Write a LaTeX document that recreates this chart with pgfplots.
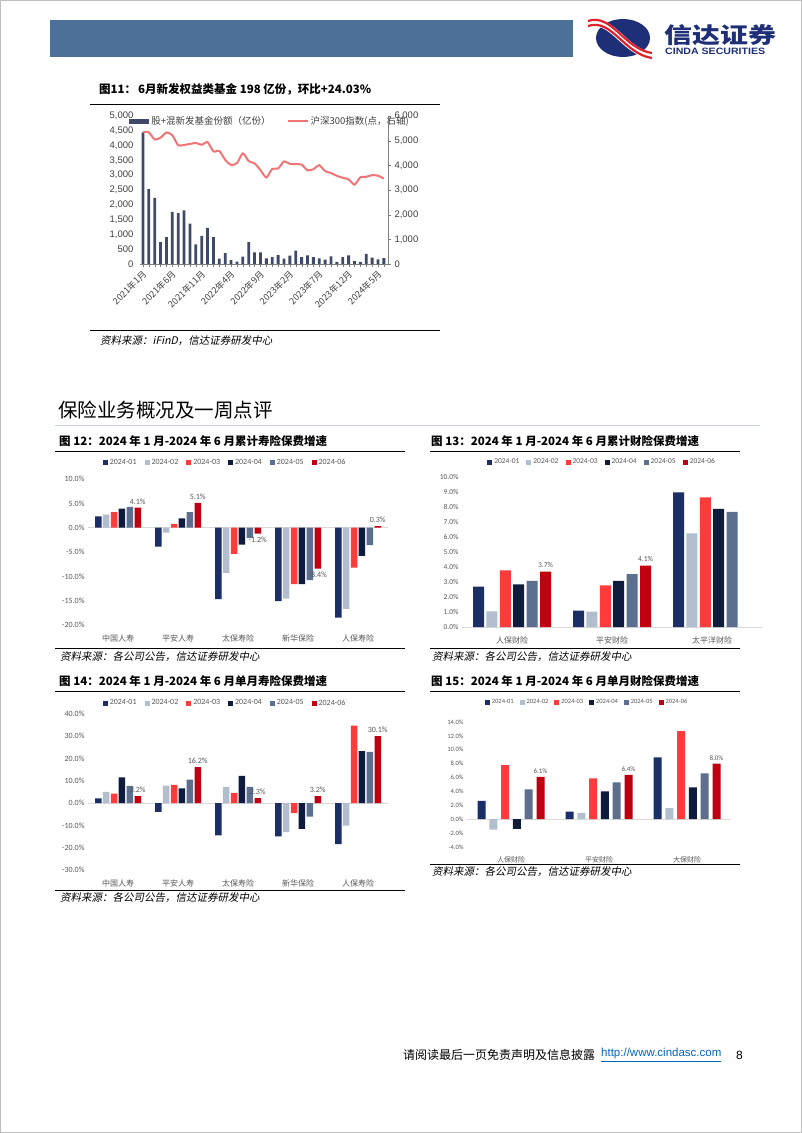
\documentclass[border=0pt]{standalone}
\usepackage{fontspec}
\usepackage{pgfplots}
\pgfplotsset{compat=1.18}
\setmainfont{Carlito}
\newfontfamily\cjk{Noto Sans CJK SC}
\newfontfamily\cjkit{Noto Sans CJK SC}[FakeSlant=0.2]
\newfontfamily\arial{Liberation Sans}
\newcommand\fs[1]{\fontsize{#1bp}{#1bp}\selectfont}

\definecolor{hdr}{HTML}{4C7098}
\definecolor{logonavy}{HTML}{1E2F78}
\definecolor{logored}{HTML}{E0202A}
\definecolor{c1}{HTML}{1B2F66}
\definecolor{c2}{HTML}{B2BDCE}
\definecolor{c3}{HTML}{FF3B3B}
\definecolor{c4}{HTML}{0F1B3D}
\definecolor{c5}{HTML}{5C6F8E}
\definecolor{c6}{HTML}{C00010}
\definecolor{topbar}{HTML}{3F4A68}
\definecolor{topline}{HTML}{F07575}
\definecolor{tickgray}{HTML}{595959}
\definecolor{zerogray}{HTML}{D9D9D9}

\pgfplotsset{
  barchart/.style={
    scale only axis, anchor=south west, ybar, clip=false,
    axis line style={draw=none}, major tick style={draw=none},
    tick label style={text=tickgray},
    /pgf/number format/assume math mode=true,
    yticklabel={\pgfmathprintnumber[fixed,fixed zerofill,precision=1]{\tick}\%},
    xticklabel style={font=\cjk\fs{8}, yshift=-2bp},
    legend columns=6,
    legend style={anchor=center, draw=none, fill=none, text=tickgray},
    extra y ticks={0}, extra y tick labels={},
    extra y tick style={grid=major, major grid style={draw=zerogray, line width=0.8bp}},
  },
  sq/.style={fill=#1, draw=none,
    legend image code/.code={\fill[#1] (0bp,-2.5bp) rectangle (5bp,2.5bp);}},
  lbl/.style={nodes near coords={\pgfmathprintnumber[fixed,fixed zerofill,precision=1]{\pgfplotspointmeta}\%},
    nodes near coords style={font=\fs{#1}, text=tickgray}},
}

\begin{document}
\begin{tikzpicture}
\path[use as bounding box, fill=white] (0,0) rectangle (802bp,-1133bp);
\draw[gray!50, line width=1bp] (0.5bp,-0.5bp) rectangle (801.5bp,-1132.5bp);

% header
\fill[hdr] (50bp,-20bp) rectangle (573bp,-57bp);
\fill[logonavy] (623bp,-38bp) ellipse (27bp and 19bp);
\draw[white, line width=7bp] (588bp,-24bp) .. controls (612bp,-16bp) and (624bp,-52bp) .. (652bp,-56bp);
\draw[logored, line width=2.2bp] (588bp,-21bp) .. controls (612bp,-13bp) and (624bp,-49bp) .. (652bp,-53bp);
\draw[logored, line width=2.2bp] (588bp,-26bp) .. controls (612bp,-18bp) and (624bp,-54bp) .. (652bp,-58bp);
\node[anchor=west, text=logonavy, inner sep=0, xscale=1.27] at (664bp,-35bp) {\cjk\bfseries\fs{22}信达证券};
\node[anchor=west, text=logonavy, inner sep=0, xscale=1.15] at (665bp,-51bp) {\arial\bfseries\fs{9.2}CINDA SECURITIES};

% figure 11
\node[anchor=west, inner sep=0] at (99bp,-89bp) {\cjk\bfseries\fs{11.5}图11：\,6月新发权益类基金 198 亿份，环比+24.03\%};
\draw[line width=1bp] (90bp,-104bp) -- (440bp,-104bp);
\draw[line width=1bp] (90bp,-330bp) -- (440bp,-330bp);
\node[anchor=west, inner sep=0] at (100bp,-341bp) {\cjkit\fs{10.5}资料来源：iFinD，信达证券研发中心};

\begin{axis}[
  at={(140bp,-264bp)}, anchor=south west, scale only axis,
  width=248bp, height=148bp,
  xmin=0.5, xmax=42.7, ymin=0, ymax=5000,
  ybar, bar width=2.8bp,
  axis x line*=bottom, axis y line*=left,
  y axis line style={draw=none}, ytick style={draw=none},
  x axis line style={draw=gray}, xtick style={draw=gray},
  tick align=outside, major tick length=3bp, minor tick length=3bp,
  ytick={0,500,...,5000}, scaled y ticks=false,
  /pgf/number format/assume math mode=true,
  yticklabel style={font=\arial\fs{9.5}, text=black!75, /pgf/number format/1000 sep={,}},
  xtick={1,6,...,41}, minor xtick={1,...,42},
  xticklabels={2021年1月,2021年6月,2021年11月,2022年4月,2022年9月,2023年2月,2023年7月,2023年12月,2024年5月},
  xticklabel style={font=\cjk\fs{9}, text=black!75, rotate=45, anchor=east, yshift=-5bp, xshift=1bp},
  legend columns=2,
  legend style={at={(-0.056,0.966)}, anchor=west, draw=none, fill=none, font=\cjk\fs{9.5}, text=black!75,
    /tikz/every even column/.append style={column sep=14bp}},
]
\addplot[fill=topbar, draw=none,
  legend image code/.code={\fill[topbar] (0bp,-2.5bp) rectangle (20bp,2.5bp);}]
  table[x=x, y=bar] {
x bar
1 4450
2 2530
3 2230
4 740
5 910
6 1760
7 1715
8 1816
9 1368
10 661
11 953
12 1222
13 908
14 180
15 370
16 135
17 80
18 250
19 740
20 390
21 390
22 190
23 235
24 300
25 180
26 280
27 450
28 235
29 290
30 235
31 190
32 145
33 260
34 70
35 235
36 290
37 100
38 70
39 340
40 215
41 160
42 198
};
\addlegendentry{股+混新发基金份额（亿份）}
\addlegendimage{legend image code/.code={\draw[topline, line width=2bp] (0bp,0bp) -- (20bp,0bp);}}
\addlegendentry{沪深300指数(点，右轴)}
\end{axis}

\begin{axis}[
  at={(140bp,-264bp)}, anchor=south west, scale only axis,
  width=248bp, height=148bp,
  xmin=0.5, xmax=42.7, ymin=0, ymax=6000,
  axis x line=none, axis y line*=right,
  y axis line style={draw=gray}, ytick style={draw=gray},
  tick align=outside, major tick length=3bp,
  ytick={0,1000,...,6000}, scaled y ticks=false,
  /pgf/number format/assume math mode=true,
  yticklabel style={font=\arial\fs{9.5}, text=black!75, /pgf/number format/1000 sep={,}},
]
\addplot[topline, line width=2bp, smooth, tension=0.4] table[x=x, y=idx] {
x idx
1 5351
2 5336
3 5048
4 5123
5 5331
6 5224
7 4811
8 4828
9 4866
10 4908
11 4833
12 4940
13 4564
14 4581
15 4222
16 4016
17 4091
18 4485
19 4170
20 4079
21 3804
22 3508
23 3854
24 3872
25 4157
26 4061
27 4051
28 4030
29 3799
30 3842
31 4005
32 3765
33 3690
34 3573
35 3497
36 3431
37 3216
38 3516
39 3537
40 3604
41 3580
42 3462
};
\end{axis}

% section heading
\node[anchor=west, inner sep=0] at (58bp,-410bp) {\cjk\fs{19.5}保险业务概况及一周点评};
\draw[line width=1bp, color={rgb,255:red,200;green,210;blue,224}] (55bp,-425bp) -- (760bp,-425bp);

% figure 12
\node[anchor=west, inner sep=0] at (59bp,-441bp) {\cjk\bfseries\fs{11.5}图 12：2024 年 1 月-2024 年 6 月累计寿险保费增速};
\draw[line width=1bp] (55bp,-451bp) -- (405bp,-451bp);
\draw[line width=1bp] (55bp,-648bp) -- (405bp,-648bp);
\node[anchor=west, inner sep=0] at (60bp,-657bp) {\cjkit\fs{10.5}资料来源：各公司公告，信达证券研发中心};

\begin{axis}[barchart, at={(88bp,-625bp)}, width=300bp, height=146bp,
  xmin=-0.5, xmax=4.5, ymin=-20, ymax=10, ytick={-20,-15,...,10},
  bar width=6.5bp, ybar=1.4bp,
  xtick={0,...,4}, xticklabels={中国人寿,平安人寿,太保寿险,新华保险,人保寿险},
  yticklabel style={font=\fs{8}},
  legend style={at={(0.457,1.11)}, font=\fs{8}, /tikz/every even column/.append style={column sep=6bp}},
]
\addplot[sq=c1] coordinates {(0,2.3) (1,-3.9) (2,-14.7) (3,-15.1) (4,-18.5)};
\addplot[sq=c2] coordinates {(0,2.7) (1,-1.0) (2,-9.3) (3,-14.6) (4,-16.7)};
\addplot[sq=c3] coordinates {(0,3.2) (1,0.8) (2,-5.4) (3,-11.6) (4,-8.2)};
\addplot[sq=c4] coordinates {(0,3.9) (1,1.9) (2,-3.5) (3,-11.6) (4,-5.8)};
\addplot[sq=c5] coordinates {(0,4.25) (1,3.2) (2,-2.1) (3,-10.8) (4,-3.6)};
\addplot[sq=c6, lbl=8] coordinates {(0,4.1) (1,5.1) (2,-1.2) (3,-8.4) (4,0.3)};
\legend{2024-01,2024-02,2024-03,2024-04,2024-05,2024-06}
\end{axis}

% figure 13
\node[anchor=west, inner sep=0] at (431bp,-441bp) {\cjk\bfseries\fs{11.5}图 13：2024 年 1 月-2024 年 6 月累计财险保费增速};
\draw[line width=1bp] (430bp,-451bp) -- (740bp,-451bp);
\draw[line width=1bp] (430bp,-648bp) -- (740bp,-648bp);
\node[anchor=west, inner sep=0] at (432bp,-657bp) {\cjkit\fs{10.5}资料来源：各公司公告，信达证券研发中心};

\begin{axis}[barchart, at={(462bp,-627bp)}, width=300bp, height=150bp,
  xmin=-0.5, xmax=2.5, ymin=0, ymax=10, ytick={0,1,...,10},
  bar width=11bp, ybar=2.4bp,
  xtick={0,1,2}, xticklabels={人保财险,平安财险,太平洋财险},
  yticklabel style={font=\fs{7.5}},
  legend style={at={(0.467,1.1)}, font=\fs{7.5}, /tikz/every even column/.append style={column sep=5bp}},
]
\addplot[sq=c1] coordinates {(0,2.7) (1,1.09) (2,8.98)};
\addplot[sq=c2] coordinates {(0,1.04) (1,1.02) (2,6.24)};
\addplot[sq=c3] coordinates {(0,3.78) (1,2.78) (2,8.64)};
\addplot[sq=c4] coordinates {(0,2.84) (1,3.07) (2,7.87)};
\addplot[sq=c5] coordinates {(0,3.07) (1,3.53) (2,7.67)};
\addplot[sq=c6, lbl=7.5] coordinates {(0,3.7) (1,4.1)};
\legend{2024-01,2024-02,2024-03,2024-04,2024-05,2024-06}
\end{axis}

% figure 14
\node[anchor=west, inner sep=0] at (59bp,-681bp) {\cjk\bfseries\fs{11.5}图 14：2024 年 1 月-2024 年 6 月单月寿险保费增速};
\draw[line width=1bp] (55bp,-691bp) -- (405bp,-691bp);
\draw[line width=1bp] (55bp,-890bp) -- (405bp,-890bp);
\node[anchor=west, inner sep=0] at (60bp,-898bp) {\cjkit\fs{10.5}资料来源：各公司公告，信达证券研发中心};

\begin{axis}[barchart, at={(88bp,-870bp)}, width=300bp, height=156bp,
  xmin=-0.5, xmax=4.5, ymin=-30, ymax=40, ytick={-30,-20,...,40},
  bar width=6.5bp, ybar=1.4bp,
  xtick={0,...,4}, xticklabels={中国人寿,平安人寿,太保寿险,新华保险,人保寿险},
  yticklabel style={font=\fs{8}},
  legend style={at={(0.457,1.07)}, font=\fs{8}, /tikz/every even column/.append style={column sep=6bp}},
]
\addplot[sq=c1] coordinates {(0,2.2) (1,-3.9) (2,-14.5) (3,-14.9) (4,-18.4)};
\addplot[sq=c2] coordinates {(0,5.1) (1,7.9) (2,7.3) (3,-13.0) (4,-10.1)};
\addplot[sq=c3] coordinates {(0,4.3) (1,8.2) (2,4.6) (3,-4.5) (4,34.8)};
\addplot[sq=c4] coordinates {(0,11.6) (1,6.6) (2,12.2) (3,-11.5) (4,23.4)};
\addplot[sq=c5] coordinates {(0,7.8) (1,10.6) (2,7.3) (3,-6.0) (4,23.0)};
\addplot[sq=c6, lbl=8] coordinates {(0,3.2) (1,16.2) (2,2.3) (3,3.2) (4,30.1)};
\legend{2024-01,2024-02,2024-03,2024-04,2024-05,2024-06}
\end{axis}

% figure 15
\node[anchor=west, inner sep=0] at (431bp,-681bp) {\cjk\bfseries\fs{11.5}图 15：2024 年 1 月-2024 年 6 月单月财险保费增速};
\draw[line width=1bp] (430bp,-691bp) -- (740bp,-691bp);
\draw[line width=1bp] (430bp,-864bp) -- (740bp,-864bp);
\node[anchor=west, inner sep=0] at (432bp,-872bp) {\cjkit\fs{10.5}资料来源：各公司公告，信达证券研发中心};

\begin{axis}[barchart, at={(467bp,-847bp)}, width=264bp, height=125bp,
  xmin=-0.5, xmax=2.5, ymin=-4, ymax=14, ytick={-4,-2,...,14},
  bar width=8bp, ybar=3.8bp,
  xtick={0,1,2}, xticklabels={人保财险,平安财险,大保财险},
  xticklabel style={font=\cjk\fs{7}},
  yticklabel style={font=\fs{6.5}},
  legend style={at={(0.455,1.16)}, font=\fs{6.5}, /tikz/every even column/.append style={column sep=4bp}},
]
\addplot[sq=c1] coordinates {(0,2.65) (1,1.1) (2,8.9)};
\addplot[sq=c2] coordinates {(0,-1.5) (1,0.9) (2,1.6)};
\addplot[sq=c3] coordinates {(0,7.8) (1,5.9) (2,12.7)};
\addplot[sq=c4] coordinates {(0,-1.4) (1,4.0) (2,4.6)};
\addplot[sq=c5] coordinates {(0,4.3) (1,5.3) (2,6.6)};
\addplot[sq=c6, lbl=7] coordinates {(0,6.1) (1,6.4) (2,8.0)};
\legend{2024-01,2024-02,2024-03,2024-04,2024-05,2024-06}
\end{axis}

% footer
\node[anchor=west, inner sep=0] at (403bp,-1055bp) {\cjk\fs{12}请阅读最后一页免责声明及信息披露};
\node[anchor=west, inner sep=0, text={rgb,255:red,5;green,99;blue,193}] at (601bp,-1055bp) {\arial\fs{11.5}\underline{http://www.cindasc.com}};
\node[anchor=west, inner sep=0] at (736bp,-1055bp) {\arial\fs{12}8};
\end{tikzpicture}
\end{document}
